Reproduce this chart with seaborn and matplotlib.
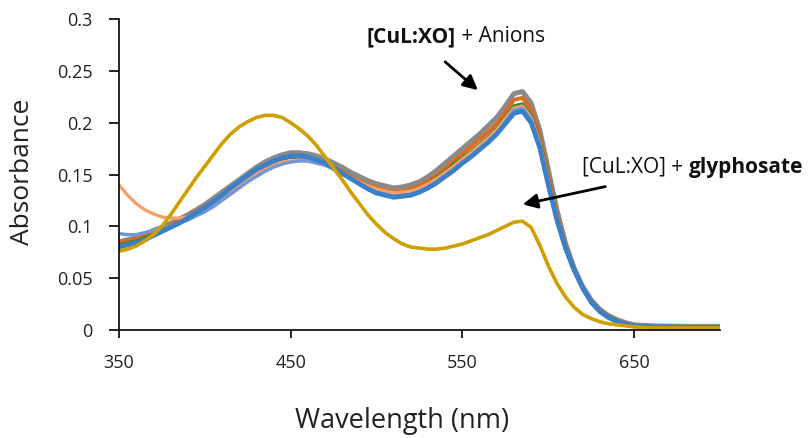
import pandas as pd
import matplotlib
matplotlib.use('Agg')
import matplotlib.pyplot as plt
import seaborn as sns

wavelength = list(range(350, 651, 5)) + [660, 680, 700]

# anion spectra
abs_gray = [0.085, 0.087, 0.089, 0.092, 0.096, 0.099, 0.103, 0.107, 0.111, 0.116,
            0.121, 0.127, 0.133, 0.139, 0.145, 0.151, 0.157, 0.162, 0.166, 0.169,
            0.171, 0.171, 0.170, 0.168, 0.165, 0.161, 0.157, 0.152, 0.148, 0.144,
            0.141, 0.139, 0.137, 0.138, 0.140, 0.143, 0.148, 0.154, 0.161, 0.168,
            0.175, 0.182, 0.189, 0.197, 0.205, 0.216, 0.228, 0.230, 0.219, 0.193,
            0.155, 0.116, 0.084, 0.060, 0.042, 0.029, 0.020, 0.014, 0.010, 0.007,
            0.005, 0.004, 0.0035, 0.003]
abs_orange = [0.084, 0.086, 0.088, 0.091, 0.094, 0.097, 0.101, 0.105, 0.109, 0.114,
              0.119, 0.124, 0.130, 0.136, 0.142, 0.148, 0.154, 0.158, 0.162, 0.165,
              0.167, 0.167, 0.166, 0.164, 0.161, 0.157, 0.153, 0.148, 0.144, 0.140,
              0.137, 0.135, 0.133, 0.134, 0.136, 0.139, 0.144, 0.149, 0.156, 0.163,
              0.170, 0.177, 0.184, 0.191, 0.199, 0.210, 0.222, 0.224, 0.213, 0.188,
              0.150, 0.112, 0.081, 0.058, 0.041, 0.028, 0.019, 0.013, 0.009, 0.007,
              0.005, 0.004, 0.004, 0.004]
abs_green = [0.082, 0.084, 0.086, 0.089, 0.092, 0.095, 0.099, 0.103, 0.107, 0.112,
             0.117, 0.123, 0.129, 0.135, 0.141, 0.147, 0.153, 0.158, 0.162, 0.165,
             0.167, 0.167, 0.166, 0.164, 0.161, 0.157, 0.152, 0.147, 0.143, 0.139,
             0.135, 0.133, 0.131, 0.132, 0.134, 0.137, 0.141, 0.147, 0.153, 0.160,
             0.166, 0.172, 0.179, 0.186, 0.194, 0.205, 0.216, 0.218, 0.207, 0.183,
             0.146, 0.109, 0.079, 0.058, 0.040, 0.027, 0.018, 0.013, 0.009, 0.006,
             0.005, 0.004, 0.0035, 0.0035]
abs_light_orange = [0.140, 0.130, 0.122, 0.116, 0.112, 0.109, 0.108, 0.108, 0.109, 0.112,
                    0.117, 0.122, 0.128, 0.134, 0.140, 0.146, 0.151, 0.155, 0.159, 0.162,
                    0.163, 0.164, 0.163, 0.161, 0.159, 0.156, 0.152, 0.147, 0.143, 0.139,
                    0.136, 0.134, 0.132, 0.133, 0.134, 0.137, 0.141, 0.146, 0.152, 0.158,
                    0.165, 0.171, 0.178, 0.185, 0.193, 0.204, 0.214, 0.216, 0.205, 0.181,
                    0.144, 0.108, 0.078, 0.057, 0.039, 0.026, 0.017, 0.012, 0.008, 0.006,
                    0.005, 0.004, 0.004, 0.004]
abs_light_blue = [0.093, 0.092, 0.092, 0.094, 0.096, 0.098, 0.100, 0.103, 0.106, 0.110,
                  0.114, 0.119, 0.125, 0.131, 0.137, 0.143, 0.148, 0.153, 0.157, 0.160,
                  0.162, 0.163, 0.163, 0.161, 0.159, 0.155, 0.151, 0.146, 0.141, 0.137,
                  0.133, 0.131, 0.129, 0.130, 0.131, 0.134, 0.138, 0.143, 0.149, 0.155,
                  0.162, 0.168, 0.175, 0.182, 0.190, 0.201, 0.212, 0.214, 0.203, 0.179,
                  0.142, 0.107, 0.078, 0.057, 0.039, 0.026, 0.017, 0.012, 0.008, 0.006,
                  0.005, 0.004, 0.003, 0.003]
abs_blue = [0.080, 0.082, 0.084, 0.087, 0.091, 0.095, 0.099, 0.103, 0.108, 0.113,
            0.118, 0.124, 0.130, 0.137, 0.143, 0.149, 0.155, 0.159, 0.163, 0.166,
            0.168, 0.168, 0.167, 0.164, 0.161, 0.156, 0.151, 0.146, 0.141, 0.136,
            0.132, 0.130, 0.128, 0.129, 0.130, 0.133, 0.137, 0.142, 0.148, 0.154,
            0.161, 0.167, 0.174, 0.181, 0.189, 0.199, 0.209, 0.211, 0.200, 0.176,
            0.140, 0.106, 0.079, 0.058, 0.041, 0.027, 0.018, 0.012, 0.008, 0.006,
            0.004, 0.003, 0.003, 0.003]
# glyphosate
abs_glyphosate = [0.076, 0.078, 0.081, 0.086, 0.092, 0.100, 0.111, 0.123, 0.135, 0.147,
                  0.158, 0.169, 0.180, 0.189, 0.196, 0.201, 0.205, 0.207, 0.207, 0.205,
                  0.200, 0.194, 0.187, 0.178, 0.167, 0.156, 0.145, 0.133, 0.122, 0.111,
                  0.102, 0.094, 0.088, 0.083, 0.080, 0.079, 0.078, 0.078, 0.079, 0.081,
                  0.083, 0.086, 0.089, 0.092, 0.096, 0.100, 0.104, 0.105, 0.099, 0.082,
                  0.062, 0.045, 0.032, 0.022, 0.015, 0.011, 0.008, 0.006, 0.005, 0.004,
                  0.003, 0.002, 0.002, 0.002]

x_ticks = [350, 450, 550, 650]
y_ticks = [0, 0.05, 0.1, 0.15, 0.2, 0.25, 0.3]
y_tick_labels = ['0', '0.05', '0.1', '0.15', '0.2', '0.25', '0.3']

sns.set_theme(style='white')
plt.rcParams['font.family'] = ['Open Sans', 'DejaVu Sans']

W, H = 812, 438
fig = plt.figure(figsize=(W / 100, H / 100), dpi=100)
ax = fig.add_axes([119 / W, 1 - 330 / H, (720 - 119) / W, (330 - 19) / H])

series = [
    (abs_gray, '#8a8a8a', 3.6),
    (abs_orange, '#dd6a1f', 2.8),
    (abs_green, '#4f7f33', 2.6),
    (abs_light_orange, '#f4a06a', 2.4),
    (abs_light_blue, '#7098d8', 2.4),
    (abs_blue, '#3a80c9', 3.4),
    (abs_glyphosate, '#cf9f00', 2.6),
]
for vals, col, lw in series:
    sns.lineplot(x=wavelength, y=vals, ax=ax, color=col, linewidth=lw)

ax.set_xlim(350, 700)
ax.set_ylim(0, 0.3)
ax.set_xticks(x_ticks)
ax.set_yticks(y_ticks)
ax.set_yticklabels(y_tick_labels)
ax.set_xlabel('')
ax.set_ylabel('')
for s in ['top', 'right']:
    ax.spines[s].set_visible(False)
for s in ['left', 'bottom']:
    ax.spines[s].set_color('black')
    ax.spines[s].set_linewidth(1.2)
ax.tick_params(axis='y', direction='out', length=7, width=1.2, color='black',
               left=True, pad=12, labelsize=13, labelcolor='#222222')
ax.tick_params(axis='x', direction='out', length=6, width=1.2, color='black',
               bottom=True, pad=11, labelsize=13, labelcolor='#222222')

fig.text(23 / W, 1 - 172 / H, 'Absorbance', rotation=90, ha='center', va='center',
         fontsize=19, color='#222222')
fig.text(402 / W, 1 - 421 / H, 'Wavelength (nm)', ha='center', va='center',
         fontsize=19.5, color='#222222')

# annotations: first part placed, second part follows right after it
def two_part(x_px, y_px, first, second, bold_first):
    t1 = fig.text(x_px / W, 1 - y_px / H, first, ha='left', va='center', fontsize=15,
                  fontweight='bold' if bold_first else 'normal', color='#111111')
    fig.canvas.draw()
    ext = t1.get_window_extent()
    fig.text(ext.x1 / W, 1 - y_px / H, second, ha='left', va='center', fontsize=15,
             fontweight='normal' if bold_first else 'bold', color='#111111')

two_part(367, 37, '[CuL:XO]', ' + Anions', True)
two_part(582, 167, '[CuL:XO] + ', 'glyphosate', False)

ax.annotate('', xy=(480 / W, 1 - 92 / H), xytext=(443 / W, 1 - 60 / H),
            xycoords='figure fraction', textcoords='figure fraction',
            arrowprops=dict(arrowstyle='-|>', color='black', lw=2, mutation_scale=22))
ax.annotate('', xy=(520 / W, 1 - 205 / H), xytext=(608 / W, 1 - 186 / H),
            xycoords='figure fraction', textcoords='figure fraction',
            arrowprops=dict(arrowstyle='-|>', color='black', lw=2, mutation_scale=22))

fig.savefig('out.png', dpi=100)
